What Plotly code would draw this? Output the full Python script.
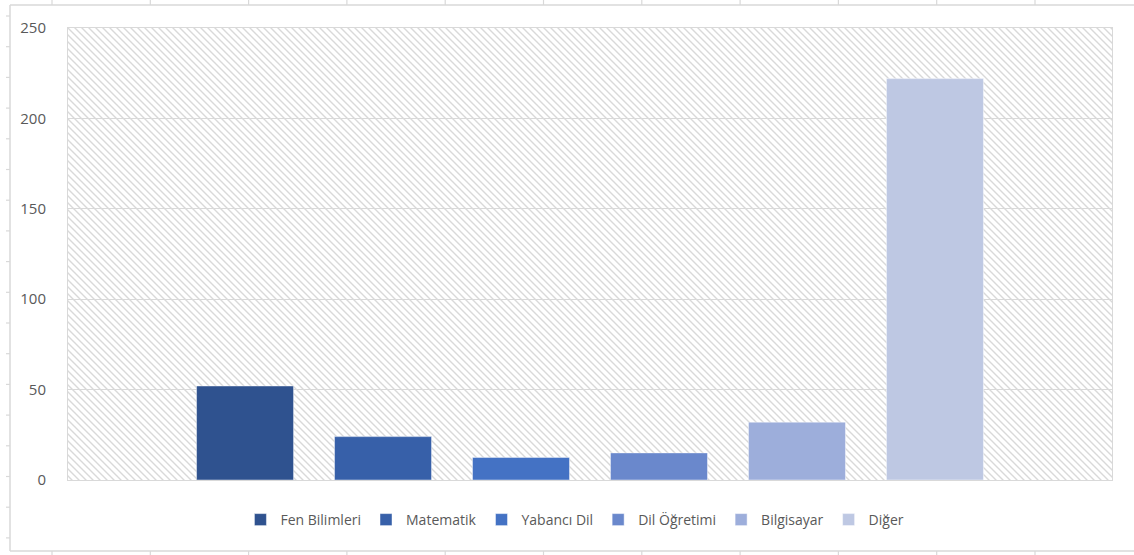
import base64
import plotly.graph_objects as go

# ---- data ----
categories = ["Fen Bilimleri", "Matematik", "Yabancı Dil", "Dil Öğretimi", "Bilgisayar", "Diğer"]
values = [52, 24, 12.5, 15, 32, 222]
colors = ["#2F528F", "#3760A9", "#4472C4", "#6A88CC", "#9DAEDB", "#BEC8E3"]
y_ticks = [0, 50, 100, 150, 200, 250]

W, H = 1134, 555
L, R, T, B = 68, 22, 28, 75
PW, PH = W - L - R, H - T - B

fig = go.Figure()
for name, val, col in zip(categories, values, colors):
    fig.add_trace(go.Bar(
        x=[""], y=[val], name=name,
        marker=dict(color=col, line=dict(color="rgba(255,255,255,0.45)", width=1)),
        hoverinfo="name+y",
    ))

# hatched plot background (decoration)
P = 7
svg = f'''<svg xmlns="http://www.w3.org/2000/svg" width="{PW}" height="{PH}">
<defs><pattern id="h" patternUnits="userSpaceOnUse" width="{P}" height="{P}">
<path d="M-2,{P-2} L2,{P+2} M0,0 L{P},{P} M{P-2},-2 L{P+2},2" stroke="#d9d9d9" stroke-width="1.4"/>
</pattern></defs>
<rect width="100%" height="100%" fill="white"/>
<rect width="100%" height="100%" fill="url(#h)"/>
</svg>'''
uri = "data:image/svg+xml;base64," + base64.b64encode(svg.encode()).decode()

def px_x(p):
    return (p - L) / PW

def px_y(p):
    return (H - B - p) / PH

frame_col = "#d9d9d9"
shapes = [
    dict(type="line", xref="paper", yref="paper", x0=px_x(10), x1=px_x(W), y0=px_y(5), y1=px_y(5),
         line=dict(color=frame_col, width=1.5)),
    dict(type="line", xref="paper", yref="paper", x0=px_x(10), x1=px_x(W), y0=px_y(551), y1=px_y(551),
         line=dict(color=frame_col, width=1.5)),
    dict(type="line", xref="paper", yref="paper", x0=px_x(10), x1=px_x(10), y0=px_y(5), y1=px_y(551),
         line=dict(color=frame_col, width=1.5)),
]
for k in range(11):
    xp = 52 + 98.3 * k
    shapes.append(dict(type="line", xref="paper", yref="paper", x0=px_x(xp), x1=px_x(xp),
                       y0=px_y(0), y1=px_y(5), line=dict(color=frame_col, width=1.2)))
    shapes.append(dict(type="line", xref="paper", yref="paper", x0=px_x(xp), x1=px_x(xp),
                       y0=px_y(551), y1=px_y(555), line=dict(color=frame_col, width=1.2)))
for k in range(18):
    yp = 16 + 30.7 * k
    shapes.append(dict(type="line", xref="paper", yref="paper", x0=px_x(6), x1=px_x(10),
                       y0=px_y(yp), y1=px_y(yp), line=dict(color=frame_col, width=1.2)))

fig.update_layout(
    width=W, height=H,
    margin=dict(l=L, r=R, t=T, b=B),
    paper_bgcolor="white", plot_bgcolor="white",
    barmode="group", bargap=0.207, bargroupgap=0.297,
    font=dict(family="Open Sans", size=15, color="#595959"),
    images=[dict(source=uri, xref="paper", yref="paper", x=0, y=1, sizex=1, sizey=1,
                 sizing="stretch", layer="below", xanchor="left", yanchor="top")],
    shapes=shapes,
    legend=dict(orientation="h", xref="container", yref="container", x=0.507, y=1 - 520 / H,
                xanchor="center", yanchor="middle", font=dict(size=14, color="#595959"),
                itemwidth=30, traceorder="normal"),
    showlegend=True,
)
fig.update_xaxes(showticklabels=False, showline=True, linecolor="#d9d9d9", linewidth=1,
                 mirror=True, showgrid=False, ticks="")
fig.update_yaxes(range=[0, 250], tickvals=y_ticks, showline=True, linecolor="#d9d9d9",
                 linewidth=1, mirror=True, showgrid=True, gridcolor="#d9d9d9", gridwidth=1,
                 zeroline=False, ticks="", ticklabelstandoff=18,
                 tickfont=dict(size=15, color="#595959"))

fig.write_html("out.html")
